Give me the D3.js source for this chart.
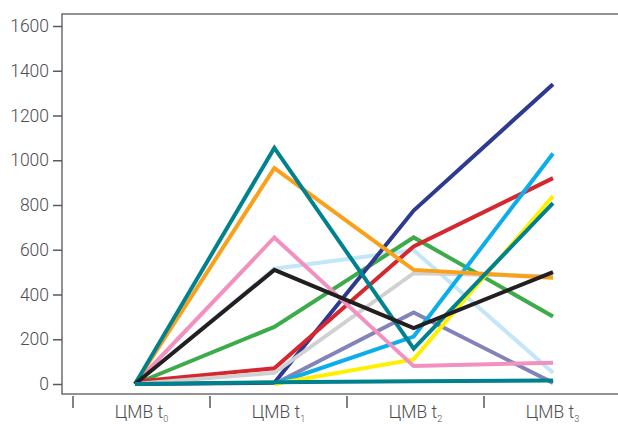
<!DOCTYPE html>
<html>
<head>
<meta charset="utf-8">
<script src="https://cdn.jsdelivr.net/npm/d3@7"></script>
<style>
  html, body { margin: 0; padding: 0; background: #fff; }
  svg { display: block; }
  text { font-family: Roboto, "Noto Sans", sans-serif; font-weight: 300; fill: #4d4d4f; }
</style>
</head>
<body>
<svg id="chart" width="618" height="424"></svg>
<script>
// Time points (ЦМВ t0..t3)
const stages = ["t0", "t1", "t2", "t3"];
const stageSubs = ["0", "1", "2", "3"];
const yTicks = [0, 200, 400, 600, 800, 1000, 1200, 1400, 1600];

// One value per time point for each patient line
const lightBlue = [0, 515, 598, 50];
const grayLine  = [0, 50, 495, 482];
const greenLine = [0, 255, 655, 302];
const redLine   = [10, 70, 615, 920];
const navyLine  = [0, 5, 775, 1340];
const lavender  = [null, 0, 320, 5];
const cyanLine  = [null, 0, 212, 1030];
const yellowLine= [null, 0, 110, 840];
const pinkLine  = [0, 655, 80, 95];
const orangeLine= [0, 965, 510, 475];
const tealLine  = [0, 1055, 158, 808];
const blackLine = [0, 510, 250, 500];
const tealFlat  = [0, 8, 12, 16];

const seriesList = [
  { values: lightBlue,  color: "#c3e6f8" },
  { values: greenLine,  color: "#3cab49" },
  { values: navyLine,   color: "#2e3a8f" },
  { values: redLine,    color: "#d6272f" },
  { values: grayLine,   color: "#d1d1d1" },
  { values: lavender,   color: "#8383b9" },
  { values: cyanLine,   color: "#0aaeea" },
  { values: yellowLine, color: "#fff000" },
  { values: pinkLine,   color: "#f291bf" },
  { values: orangeLine, color: "#f9a11b" },
  { values: tealLine,   color: "#00818e" },
  { values: blackLine,  color: "#231f20" },
  { values: tealFlat,   color: "#00818e" }
];

const svg = d3.select("#chart");
const frame = { left: 62, right: 620, top: 14, bottom: 394 };

const y = d3.scaleLinear().domain([0, 1600]).range([384, 26]);
const xPts = d3.scalePoint().domain(stages).range([135, 553]);
const xBand = d3.scaleBand().domain(stages).range([73, 621]).padding(0);

// Frame
svg.append("rect")
  .attr("x", frame.left).attr("y", frame.top)
  .attr("width", frame.right - frame.left).attr("height", frame.bottom - frame.top)
  .attr("fill", "none").attr("stroke", "#6d6e71").attr("stroke-width", 1.5);

// Y axis
const yAxis = d3.axisLeft(y).tickValues(yTicks).tickFormat(d3.format("d"))
  .tickSize(9).tickPadding(4).tickSizeOuter(0);
const gy = svg.append("g").attr("transform", `translate(${frame.left},0)`).call(yAxis);
gy.select(".domain").remove();
gy.selectAll(".tick line").attr("stroke", "#58595b").attr("stroke-width", 1.5);
gy.selectAll(".tick text").attr("font-size", 17.5).attr("fill", "#4d4d4f")
  .attr("font-family", "Roboto, 'Noto Sans', sans-serif").attr("font-weight", 300);

// X axis (separate tick row below the frame)
const gx = svg.append("g").attr("transform", `translate(0,${frame.bottom + 2})`);
gx.selectAll("line.tk").data(stages).enter().append("line")
  .attr("class", "tk")
  .attr("x1", d => xBand(d)).attr("x2", d => xBand(d))
  .attr("y1", 0).attr("y2", 12)
  .attr("stroke", "#58595b").attr("stroke-width", 1.5);
const lbl = gx.selectAll("text.lb").data(stages).enter().append("text")
  .attr("class", "lb")
  .attr("x", d => xBand(d) + xBand.bandwidth() / 2)
  .attr("y", 22)
  .attr("text-anchor", "middle")
  .attr("font-size", 17.5);
lbl.append("tspan").text("ЦМВ t");
lbl.append("tspan").attr("font-size", 9).attr("dy", 4).text((d, i) => stageSubs[i]);

// Lines
const line = d3.line()
  .defined(d => d.v !== null)
  .x(d => xPts(d.s))
  .y(d => y(d.v));

svg.append("g").selectAll("path").data(seriesList).enter().append("path")
  .attr("d", s => line(s.values.map((v, i) => ({ s: stages[i], v }))))
  .attr("fill", "none")
  .attr("stroke", s => s.color)
  .attr("stroke-width", 4)
  .attr("stroke-linejoin", "miter");
</script>
</body>
</html>
